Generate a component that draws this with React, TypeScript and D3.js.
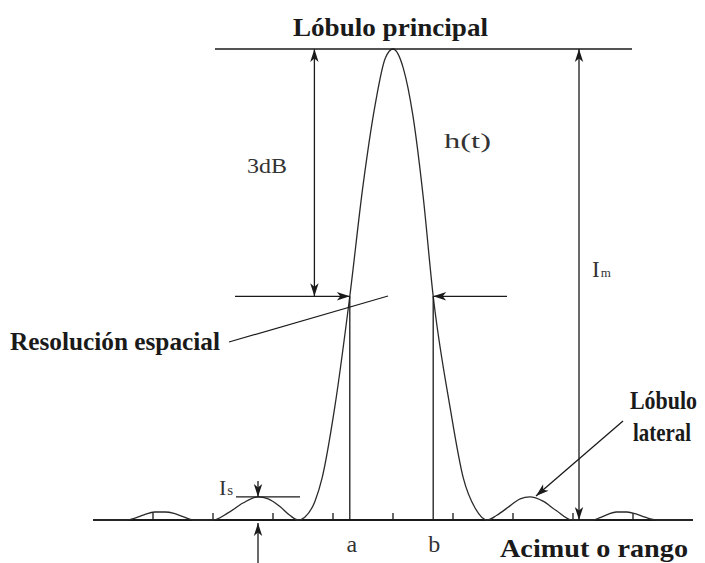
import React from 'react';
import * as d3 from 'd3';

// Curve: t (tick units, centre = 0) and relative intensity
const curveT = [-5, -4.43, -4.3, -4.15, -3.97, -3.8, -3.65, -3.5, -3.33, -3.0, -2.75, -2.5, -2.25, -2.08, -1.88, -1.72, -1.58,
  -1.47, -1.3, -1.18, -0.97, -0.72, -0.5, -0.3, -0.13, 0,
  0.17, 0.33, 0.5, 0.67, 0.95, 1.17, 1.37, 1.57, 1.73, 1.95, 2.12, 2.28, 2.5, 2.72, 2.98,
  3.33, 3.45, 3.58, 3.72, 3.9, 4.05, 4.2, 4.4, 5];
const curveI = [0, 0, 0.004, 0.011, 0.017, 0.017, 0.014, 0.007, 0, 0, 0.015, 0.036, 0.049, 0.045, 0.028, 0.01, 0,
  0.006, 0.04, 0.09, 0.24, 0.475, 0.71, 0.88, 0.98, 1,
  0.96, 0.86, 0.69, 0.475, 0.24, 0.09, 0.025, 0, 0.01, 0.03, 0.045, 0.049, 0.04, 0.02, 0,
  0, 0.005, 0.012, 0.017, 0.017, 0.013, 0.006, 0, 0];

const tickT = [-4, -3, -2, -1, 0, 1, 2, 3, 4];
const halfPowerT = [-0.72, 0.67];
const halfPowerLevel = 0.475;
const markLabels = ['a', 'b'];
const sideLobeT = -2.25;
const sideLobeLevel = 0.049;

const titleText = 'Lóbulo principal';
const resolutionText = 'Resolución espacial';
const axisText = 'Acimut o rango';
const lateralText = ['Lóbulo', 'lateral'];
const dbText = '3dB';
const funcText = 'h(t)';

const INK = '#1a1a1a';
const BOLD = '"Liberation Serif", "Times New Roman", serif';
const LIGHT = '"Liberation Serif", "DejaVu Serif", serif';

function head(tx: number, ty: number, ang: number, L = 13, w = 4.2) {
  const c = Math.cos(ang), s = Math.sin(ang);
  const bx = tx - L * c, by = ty - L * s;
  const nx = tx - (L - 3.5) * c, ny = ty - (L - 3.5) * s;
  const lx = bx - w * s, ly = by + w * c;
  const rx = bx + w * s, ry = by - w * c;
  return `M${tx},${ty}L${lx},${ly}L${nx},${ny}L${rx},${ry}Z`;
}

function Arrow({ x1, y1, x2, y2, start = false, end = true }:
  { x1: number; y1: number; x2: number; y2: number; start?: boolean; end?: boolean }) {
  const ang = Math.atan2(y2 - y1, x2 - x1);
  return (
    <g>
      <line x1={x1} y1={y1} x2={x2} y2={y2} stroke={INK} strokeWidth={1.3} />
      {end && <path d={head(x2, y2, ang)} fill={INK} />}
      {start && <path d={head(x1, y1, ang + Math.PI)} fill={INK} />}
    </g>
  );
}

export default function App() {
  const W = 705, H = 563;
  const x = d3.scaleLinear().domain([-5, 5]).range([93, 693]);
  const y = d3.scaleLinear().domain([0, 1]).range([520, 49]);
  const line = d3.line<number>()
    .x((_, i) => x(curveT[i]))
    .y((d) => y(d))
    .curve(d3.curveMonotoneX);

  const yHalf = y(halfPowerLevel);
  const xa = x(halfPowerT[0]);
  const xb = x(halfPowerT[1]);
  const yTop = y(1);
  const yBase = y(0);
  const xLeftArrow = x(-1.31);
  const xRightArrow = x(3.1);
  const xSide = x(sideLobeT);
  const ySide = y(sideLobeLevel);

  return (
    <svg width={W} height={H} viewBox={`0 0 ${W} ${H}`}
      style={{ position: 'absolute', left: 0, top: 0, background: '#fff' }}>
      <rect x={0} y={0} width={W} height={H} fill="#fff" />
      {/* baseline */}
      <line x1={x(-5)} y1={yBase} x2={x(5)} y2={yBase} stroke={INK} strokeWidth={2} />
      {tickT.map((t) => (
        <line key={t} x1={x(t)} y1={yBase} x2={x(t)} y2={yBase - 7} stroke={INK} strokeWidth={1.3} />
      ))}
      {/* curve */}
      <path d={line(curveI) || ''} fill="none" stroke="#2a2a2a" strokeWidth={1.3} />
      {/* top reference line */}
      <line x1={215} y1={yTop} x2={632} y2={yTop} stroke={INK} strokeWidth={1.5} />
      {/* 3dB arrow */}
      <Arrow x1={xLeftArrow} y1={yTop} x2={xLeftArrow} y2={yHalf} start end />
      {/* half-power horizontal arrows */}
      <Arrow x1={235} y1={yHalf} x2={xa} y2={yHalf} />
      <Arrow x1={507} y1={yHalf} x2={xb} y2={yHalf} />
      {/* a, b verticals */}
      <line x1={xa} y1={yHalf} x2={xa} y2={yBase} stroke={INK} strokeWidth={1.3} />
      <line x1={xb} y1={yHalf} x2={xb} y2={yBase} stroke={INK} strokeWidth={1.3} />
      {/* Im arrow */}
      <Arrow x1={xRightArrow} y1={yTop} x2={xRightArrow} y2={yBase} start end />
      {/* Is marks */}
      <line x1={236} y1={ySide} x2={300} y2={ySide} stroke={INK} strokeWidth={1.3} />
      <Arrow x1={xSide} y1={481} x2={xSide} y2={ySide} />
      <Arrow x1={xSide} y1={563} x2={xSide} y2={523} />
      {/* leader lines */}
      <line x1={229} y1={342} x2={388} y2={296} stroke={INK} strokeWidth={1.2} />
      <Arrow x1={623} y1={421} x2={536} y2={496} />

      {/* texts */}
      <text x={293} y={36} fontFamily={BOLD} fontWeight="bold" fontSize={25} fill={INK}
        textLength={195} lengthAdjust="spacingAndGlyphs">{titleText}</text>
      <text x={10} y={350} fontFamily={BOLD} fontWeight="bold" fontSize={25} fill={INK}
        textLength={210} lengthAdjust="spacingAndGlyphs">{resolutionText}</text>
      <text x={500} y={557} fontFamily={BOLD} fontWeight="bold" fontSize={25} fill={INK}
        textLength={188} lengthAdjust="spacingAndGlyphs">{axisText}</text>
      <text x={630} y={409} fontFamily={BOLD} fontWeight="bold" fontSize={25} fill={INK}
        textLength={67} lengthAdjust="spacingAndGlyphs">{lateralText[0]}</text>
      <text x={633} y={441} fontFamily={BOLD} fontWeight="bold" fontSize={25} fill={INK}
        textLength={58} lengthAdjust="spacingAndGlyphs">{lateralText[1]}</text>

      <text x={247} y={173} fontFamily={LIGHT} fontSize={22} fill="#333"
        textLength={40} lengthAdjust="spacingAndGlyphs">{dbText}</text>
      <text x={444} y={148} fontFamily={LIGHT} fontSize={22} fill="#333"
        textLength={47} lengthAdjust="spacingAndGlyphs">{funcText}</text>
      <text x={592} y={277} fontFamily={LIGHT} fontSize={23} fill="#333">I<tspan fontSize={13} dx={1}>m</tspan></text>
      <text x={219} y={495} fontFamily={LIGHT} fontSize={22} fill="#333">I<tspan fontSize={15} dx={1}>s</tspan></text>
      <text x={xa + 2} y={552} fontFamily={LIGHT} fontSize={24} fill="#333" textAnchor="middle">{markLabels[0]}</text>
      <text x={xb + 1} y={552} fontFamily={LIGHT} fontSize={24} fill="#333" textAnchor="middle">{markLabels[1]}</text>
    </svg>
  );
}
